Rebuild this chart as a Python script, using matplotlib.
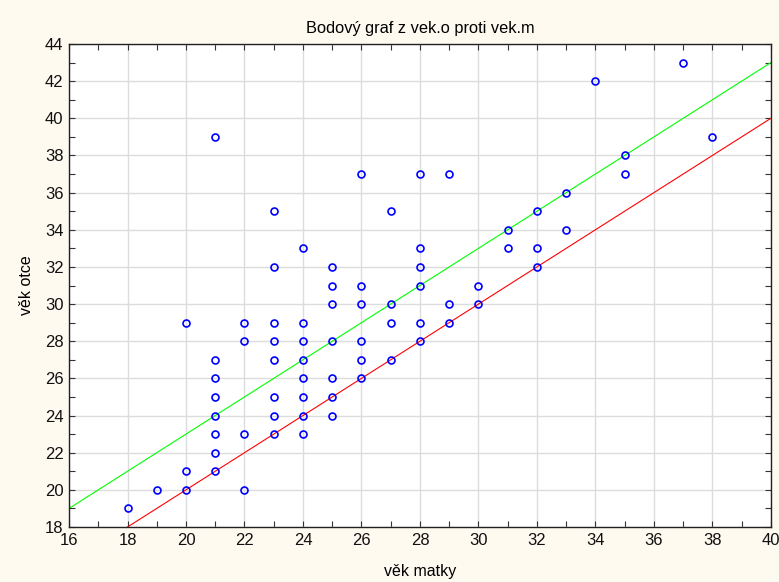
import matplotlib
matplotlib.use("Agg")
import matplotlib.pyplot as plt
from matplotlib.ticker import MultipleLocator

# věk matky (x) a věk otce (y), jeden bod na dvojici
vek_matky = [18, 19,
             20, 20, 20,
             21, 21, 21, 21, 21, 21, 21, 21,
             22, 22, 22, 22,
             23, 23, 23, 23, 23, 23, 23, 23,
             24, 24, 24, 24, 24, 24, 24, 24,
             25, 25, 25, 25, 25, 25, 25,
             26, 26, 26, 26, 26, 26,
             27, 27, 27, 27,
             28, 28, 28, 28, 28, 28,
             29, 29, 29,
             30, 30,
             31, 31,
             32, 32, 32,
             33, 33,
             34,
             35, 35,
             37,
             38]
vek_otce = [19, 20,
            29, 21, 20,
            39, 27, 26, 25, 24, 23, 22, 21,
            29, 28, 23, 20,
            35, 32, 29, 28, 27, 25, 24, 23,
            33, 29, 28, 27, 26, 25, 24, 23,
            32, 31, 30, 28, 26, 25, 24,
            37, 31, 30, 28, 27, 26,
            35, 30, 29, 27,
            37, 33, 32, 31, 29, 28,
            37, 30, 29,
            31, 30,
            34, 33,
            35, 33, 32,
            36, 34,
            42,
            38, 37,
            43,
            39]

# referenční přímky y = x a y = x + 3
primka_x = [16, 40]
primka_rovnost = [16, 40]
primka_posun = [19, 43]

plt.rcParams['font.family'] = ['Liberation Sans Narrow', 'Liberation Sans', 'DejaVu Sans']

fig = plt.figure(figsize=(7.79, 5.82), dpi=100, facecolor='#FFFAF0')
ax = fig.add_axes([0.0886, 0.0945, 0.901, 0.8299])

ax.plot(primka_x, primka_posun, color='#00FF00', lw=0.8, zorder=2)
ax.plot(primka_x, primka_rovnost, color='#FF0000', lw=0.8, zorder=2)
ax.plot(vek_matky, vek_otce, 'o', ms=5, mfc='none', mec='#0000FF', mew=1.2, zorder=3)

ax.set_xlim(16, 40)
ax.set_ylim(18, 44)
ax.xaxis.set_major_locator(MultipleLocator(2))
ax.xaxis.set_minor_locator(MultipleLocator(1))
ax.yaxis.set_major_locator(MultipleLocator(2))
ax.yaxis.set_minor_locator(MultipleLocator(1))
ax.grid(True, which='major', color='#DCDCDC', lw=1.0)
ax.set_axisbelow(True)
ax.tick_params(which='both', direction='in', top=True, right=True, length=4,
               width=0.8, color='#333333', labelsize=12, pad=4, labelcolor='#111111')
for spine in ax.spines.values():
    spine.set_color('#222222')
    spine.set_linewidth(1.0)

ax.set_title('Bodový graf z vek.o proti vek.m', fontsize=11.8, pad=8)
ax.set_xlabel('věk matky', fontsize=11.5, labelpad=12)
ax.set_ylabel('věk otce', fontsize=11.5, labelpad=8)

fig.savefig('out.png', dpi=100, facecolor=fig.get_facecolor())
